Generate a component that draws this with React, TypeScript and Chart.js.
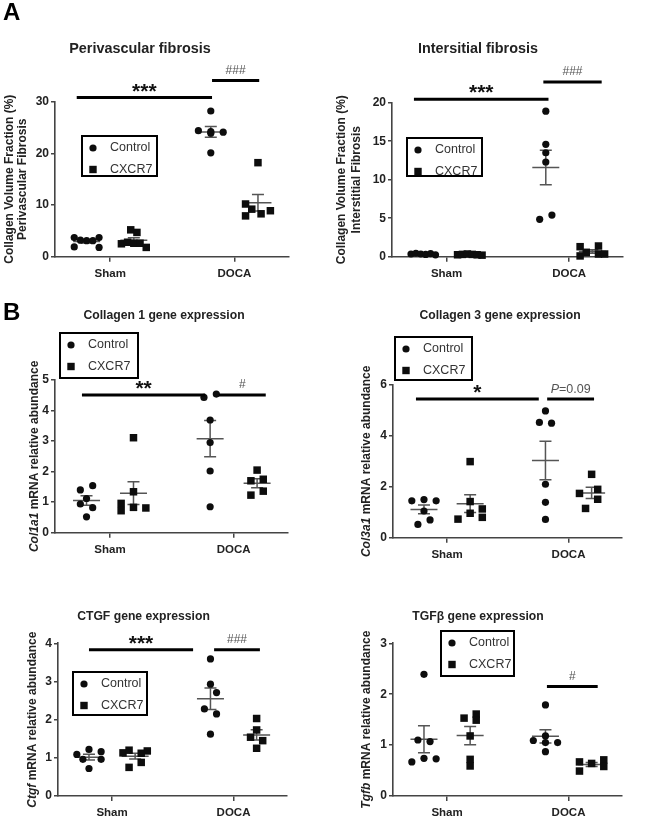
import React, { useEffect, useRef } from "react";
import { Chart, registerables } from "chart.js";

Chart.register(...registerables);

const FONT = "'Liberation Sans', Arial, Helvetica, sans-serif";
const TEXT = "#222";
const AXIS = "#444";
const MARK = "#0d0d0d";
const MEAN = "#555";
const GREY_TXT = "#555";

const categories = ["Sham", "DOCA"];
const seriesNames = ["Control", "CXCR7"];

// ---- Perivascular fibrosis (%) ----
const periShamControl = [3.7, 1.9, 3.2, 3.1, 3.1, 3.7, 1.8];
const periShamCXCR7 = [2.5, 5.2, 4.7, 2.8, 2.6, 2.6, 1.8];
const periDocaControl = [28.2, 24.4, 24.2, 23.9, 24.1, 20.1];
const periDocaCXCR7 = [18.2, 10.2, 9.2, 8.3, 8.9, 7.9];
const periShamControlSlots = [-2, -2, -1, 0, 1, 2, 2];
const periShamCXCR7Slots = [-2, -0.5, 0.5, -1, 0, 1, 2];
const periDocaControlSlots = [0, -2, 0, 0, 2, 0];
const periDocaCXCR7Slots = [0, -2, -1, 0.5, 2, -2];
const periTicks = { max: 30, step: 10 };
const periSig = [
  { from: 0.73, to: 1.82, y: 30.8, label: "***", kind: "star" },
  { from: 1.82, to: 2.2, y: 34.1, label: "###", kind: "hash" },
];

// ---- Intersitial fibrosis (%) ----
const interShamControl = [0.35, 0.45, 0.35, 0.3, 0.4, 0.25];
const interShamCXCR7 = [0.25, 0.3, 0.35, 0.3, 0.25, 0.2];
const interDocaControl = [18.9, 14.6, 13.5, 12.3, 4.85, 5.4];
const interDocaCXCR7 = [1.3, 0.1, 0.57, 1.39, 0.35, 0.35];
const interShamControlSlots = [-2, -1.2, -0.4, 0.4, 1.2, 2];
const interShamCXCR7Slots = [-2, -1.2, -0.4, 0.4, 1.2, 2];
const interDocaControlSlots = [0, 0, 0, 0, -1, 1];
const interDocaCXCR7Slots = [-2, -2, -1, 1, 1, 2];
const interTicks = { max: 20, step: 5 };
const interSig = [
  { from: 0.734, to: 1.832, y: 20.44, label: "***", kind: "star" },
  { from: 1.79, to: 2.266, y: 22.7, label: "###", kind: "hash" },
];

// ---- Collagen 1 ----
const col1ShamControl = [1.4, 1.54, 1.12, 0.94, 0.82, 0.52];
const col1ShamCXCR7 = [3.11, 1.34, 0.96, 0.72, 0.83, 0.81];
const col1DocaControl = [4.43, 4.54, 3.69, 2.95, 2.02, 0.85];
const col1DocaCXCR7 = [2.05, 1.7, 1.75, 1.23, 1.36];
const col1ShamControlSlots = [-1, 1, 0, -1, 1, 0];
const col1ShamCXCR7Slots = [0, 0, -2, -2, 0, 2];
const col1DocaControlSlots = [-1, 1, 0, 0, 0, 0];
const col1DocaCXCR7Slots = [0, -1, 1, -1, 1];
const col1Ticks = { max: 5, step: 1 };
const col1Sig = [
  { from: 0.773, to: 1.77, y: 4.51, label: "**", kind: "star" },
  { from: 1.88, to: 2.26, y: 4.51, label: "#", kind: "hash" },
];

// ---- Collagen 3 ----
const col3ShamControl = [1.45, 1.5, 1.45, 1.05, 0.7, 0.52];
const col3ShamCXCR7 = [2.99, 1.42, 1.13, 0.96, 0.73, 0.8];
const col3DocaControl = [4.98, 4.53, 4.5, 2.1, 1.39, 0.72];
const col3DocaCXCR7 = [2.49, 1.74, 1.9, 1.51, 1.15];
const col3ShamControlSlots = [-2, 0, 2, 0, 1, -1];
const col3ShamCXCR7Slots = [0, 0, 2, 0, -2, 2];
const col3DocaControlSlots = [0, -1, 1, 0, 0, 0];
const col3DocaCXCR7Slots = [0, -2, 1, 1, -1];
const col3Ticks = { max: 6, step: 2 };
const col3Sig = [
  { from: 0.744, to: 1.755, y: 5.45, label: "*", kind: "star" },
  { from: 1.824, to: 2.21, y: 5.45, label: "P=0.09", kind: "p" },
];

// ---- CTGF ----
const ctgfShamControl = [1.09, 1.22, 1.16, 0.96, 0.96, 0.72];
const ctgfShamCXCR7 = [1.13, 1.2, 1.18, 1.12, 0.75, 0.88];
const ctgfDocaControl = [3.59, 2.93, 2.71, 2.28, 2.15, 1.62];
const ctgfDocaCXCR7 = [2.03, 1.73, 1.54, 1.45, 1.25];
const ctgfShamControlSlots = [-2, 0, 2, -1, 2, 0];
const ctgfShamCXCR7Slots = [-2, -1, 2, 1, -1, 1];
const ctgfDocaControlSlots = [0, 0, 1, -1, 1, 0];
const ctgfDocaCXCR7Slots = [0, 0, -1, 1, 0];
const ctgfTicks = { max: 4, step: 1 };
const ctgfSig = [
  { from: 0.81, to: 1.667, y: 3.83, label: "***", kind: "star" },
  { from: 1.84, to: 2.217, y: 3.83, label: "###", kind: "hash" },
];

// ---- TGFβ ----
const tgfbShamControl = [2.39, 1.1, 1.07, 0.67, 0.74, 0.73];
const tgfbShamCXCR7 = [1.53, 1.61, 1.49, 1.18, 0.72, 0.59];
const tgfbDocaControl = [1.79, 1.18, 1.09, 1.05, 1.05, 0.87];
const tgfbDocaCXCR7 = [0.67, 0.49, 0.64, 0.71, 0.58];
const tgfbShamControlSlots = [0, -1, 1, -2, 0, 2];
const tgfbShamCXCR7Slots = [-1, 1, 1, 0, 0, 0];
const tgfbDocaControlSlots = [0, 0, -2, 0, 2, 0];
const tgfbDocaCXCR7Slots = [-2, -2, 0, 2, 2];
const tgfbTicks = { max: 3, step: 1 };
const tgfbSig = [{ from: 1.822, to: 2.24, y: 2.15, label: "#", kind: "hash" }];

// ---- styling constants ----
const X_MIN = 0.555;
const X_MAX = 2.44;
const GROUP_OFFSET = 0.19;
const SLOT = 0.05;

type Part = { t: string; i?: boolean };

const panels = [
  {
    id: "peri",
    title: "Perivascular fibrosis",
    titleSize: 14.4,
    yTitle: [[{ t: "Collagen Volume Fraction (%)" }], [{ t: "Perivascular Fibrosis" }]] as Part[][],
    ticks: periTicks,
    control: [periShamControl, periDocaControl],
    cxcr7: [periShamCXCR7, periDocaCXCR7],
    controlSlots: [periShamControlSlots, periDocaControlSlots],
    cxcr7Slots: [periShamCXCR7Slots, periDocaCXCR7Slots],
    sig: periSig,
    layout: {
      canvas: { x: 0, y: 0, w: 330, h: 290 },
      plot: { left: 55, top: 101.7, right: 289, bottom: 256.7 },
      title: { x: 140, y: 49 },
      yTitleX: [10, 23],
      legend: { x: 82, y: 136, w: 75, h: 40 },
    },
  },
  {
    id: "inter",
    title: "Intersitial fibrosis",
    titleSize: 14.4,
    yTitle: [[{ t: "Collagen Volume Fraction (%)" }], [{ t: "Interstitial Fibrosis" }]] as Part[][],
    ticks: interTicks,
    control: [interShamControl, interDocaControl],
    cxcr7: [interShamCXCR7, interDocaCXCR7],
    controlSlots: [interShamControlSlots, interDocaControlSlots],
    cxcr7Slots: [interShamCXCR7Slots, interDocaCXCR7Slots],
    sig: interSig,
    layout: {
      canvas: { x: 330, y: 0, w: 331, h: 290 },
      plot: { left: 392, top: 102.7, right: 623, bottom: 256.7 },
      title: { x: 478, y: 49 },
      yTitleX: [342, 357],
      legend: { x: 407, y: 138, w: 75, h: 38 },
    },
  },
  {
    id: "col1",
    title: "Collagen 1 gene expression",
    titleSize: 12.2,
    yTitle: [[{ t: "Col1a1", i: true }, { t: " mRNA relative abundance" }]] as Part[][],
    ticks: col1Ticks,
    control: [col1ShamControl, col1DocaControl],
    cxcr7: [col1ShamCXCR7, col1DocaCXCR7],
    controlSlots: [col1ShamControlSlots, col1DocaControlSlots],
    cxcr7Slots: [col1ShamCXCR7Slots, col1DocaCXCR7Slots],
    sig: col1Sig,
    layout: {
      canvas: { x: 0, y: 290, w: 330, h: 270 },
      plot: { left: 55, top: 380, right: 288, bottom: 532.7 },
      title: { x: 164, y: 316 },
      yTitleX: [35],
      legend: { x: 60, y: 333, w: 78, h: 45 },
    },
  },
  {
    id: "col3",
    title: "Collagen 3 gene expression",
    titleSize: 12.2,
    yTitle: [[{ t: "Col3a1", i: true }, { t: " mRNA relative abundance" }]] as Part[][],
    ticks: col3Ticks,
    control: [col3ShamControl, col3DocaControl],
    cxcr7: [col3ShamCXCR7, col3DocaCXCR7],
    controlSlots: [col3ShamControlSlots, col3DocaControlSlots],
    cxcr7Slots: [col3ShamCXCR7Slots, col3DocaCXCR7Slots],
    sig: col3Sig,
    layout: {
      canvas: { x: 330, y: 290, w: 331, h: 270 },
      plot: { left: 393, top: 385, right: 622, bottom: 537.7 },
      title: { x: 500, y: 316 },
      yTitleX: [367],
      legend: { x: 395, y: 337, w: 77, h: 43 },
    },
  },
  {
    id: "ctgf",
    title: "CTGF gene expression",
    titleSize: 12.2,
    yTitle: [[{ t: "Ctgf", i: true }, { t: " mRNA relative abundance" }]] as Part[][],
    ticks: ctgfTicks,
    control: [ctgfShamControl, ctgfDocaControl],
    cxcr7: [ctgfShamCXCR7, ctgfDocaCXCR7],
    controlSlots: [ctgfShamControlSlots, ctgfDocaControlSlots],
    cxcr7Slots: [ctgfShamCXCR7Slots, ctgfDocaCXCR7Slots],
    sig: ctgfSig,
    layout: {
      canvas: { x: 0, y: 560, w: 330, h: 270 },
      plot: { left: 58, top: 643.3, right: 287, bottom: 796 },
      title: { x: 143.5, y: 617 },
      yTitleX: [33],
      legend: { x: 73, y: 672, w: 74, h: 43 },
    },
  },
  {
    id: "tgfb",
    title: "TGFβ gene expression",
    titleSize: 12.2,
    yTitle: [[{ t: "Tgfb", i: true }, { t: " mRNA relative abundance" }]] as Part[][],
    ticks: tgfbTicks,
    control: [tgfbShamControl, tgfbDocaControl],
    cxcr7: [tgfbShamCXCR7, tgfbDocaCXCR7],
    controlSlots: [tgfbShamControlSlots, tgfbDocaControlSlots],
    cxcr7Slots: [tgfbShamCXCR7Slots, tgfbDocaCXCR7Slots],
    sig: tgfbSig,
    layout: {
      canvas: { x: 330, y: 560, w: 331, h: 270 },
      plot: { left: 393, top: 643.3, right: 622, bottom: 796 },
      title: { x: 478, y: 617 },
      yTitleX: [367],
      legend: { x: 441, y: 631, w: 73, h: 45 },
    },
  },
];

type PanelSpec = (typeof panels)[number];

function points(sets: number[][], slots: number[][], side: number) {
  const out: { x: number; y: number }[] = [];
  sets.forEach((vals, ci) =>
    vals.forEach((v, i) => out.push({ x: ci + 1 + side * GROUP_OFFSET + slots[ci][i] * SLOT, y: v }))
  );
  return out;
}

function drawParts(ctx: CanvasRenderingContext2D, parts: Part[], cx: number, cy: number, size: number, weight: string, color: string, baseline: CanvasTextBaseline = "middle") {
  const fonts = parts.map((p) => `${p.i ? "italic " : ""}${weight} ${size}px ${FONT}`);
  let total = 0;
  const widths = parts.map((p, k) => {
    ctx.font = fonts[k];
    const w = ctx.measureText(p.t).width;
    total += w;
    return w;
  });
  let x = cx - total / 2;
  ctx.textAlign = "left";
  ctx.textBaseline = baseline;
  ctx.fillStyle = color;
  parts.forEach((p, k) => {
    ctx.font = fonts[k];
    ctx.fillText(p.t, x, cy);
    x += widths[k];
  });
}

function makeDecor(p: PanelSpec) {
  const L = p.layout;
  const ox = L.canvas.x;
  const oy = L.canvas.y;
  return {
    id: "decor_" + p.id,
    beforeDatasetsDraw(chart: any) {
      const { ctx } = chart;
      const xs = chart.scales.x;
      const ys = chart.scales.y;
      ctx.save();
      ctx.strokeStyle = MEAN;
      ctx.lineWidth = 1.5;
      const groups: [number[][], number][] = [
        [p.control, -1],
        [p.cxcr7, 1],
      ];
      groups.forEach(([sets, side]) =>
        sets.forEach((vals, ci) => {
          const n = vals.length;
          const m = vals.reduce((a, b) => a + b, 0) / n;
          const sd = Math.sqrt(vals.reduce((a, b) => a + (b - m) * (b - m), 0) / (n - 1));
          const se = sd / Math.sqrt(n);
          const cx = xs.getPixelForValue(ci + 1 + side * GROUP_OFFSET);
          const ym = ys.getPixelForValue(m);
          const yt = ys.getPixelForValue(m + se);
          const yb = ys.getPixelForValue(m - se);
          ctx.beginPath();
          ctx.moveTo(cx - 13.5, ym);
          ctx.lineTo(cx + 13.5, ym);
          ctx.moveTo(cx, yt);
          ctx.lineTo(cx, yb);
          ctx.moveTo(cx - 6, yt);
          ctx.lineTo(cx + 6, yt);
          ctx.moveTo(cx - 6, yb);
          ctx.lineTo(cx + 6, yb);
          ctx.stroke();
        })
      );
      ctx.restore();
    },
    afterDraw(chart: any) {
      const { ctx } = chart;
      const xs = chart.scales.x;
      const ys = chart.scales.y;
      ctx.save();
      // title
      drawParts(ctx, [{ t: p.title }], L.title.x - ox, L.title.y - oy, p.titleSize, "bold", TEXT);
      // y title
      const cy = (L.plot.top + L.plot.bottom) / 2 - oy;
      p.yTitle.forEach((line, k) => {
        ctx.save();
        ctx.translate(L.yTitleX[k] - ox, cy);
        ctx.rotate(-Math.PI / 2);
        drawParts(ctx, line, 0, 0, 12, "bold", TEXT);
        ctx.restore();
      });
      // significance bars
      p.sig.forEach((s) => {
        const x1 = xs.getPixelForValue(s.from);
        const x2 = xs.getPixelForValue(s.to);
        const yy = ys.getPixelForValue(s.y);
        ctx.strokeStyle = "#000";
        ctx.lineWidth = 3;
        ctx.beginPath();
        ctx.moveTo(x1, yy);
        ctx.lineTo(x2, yy);
        ctx.stroke();
        const mx = (x1 + x2) / 2;
        if (s.kind === "star") {
          drawParts(ctx, [{ t: s.label }], mx, yy, 21, "bold", "#111", "alphabetic");
        } else if (s.kind === "hash") {
          drawParts(ctx, [{ t: s.label }], mx, yy - 7, 12, "normal", GREY_TXT, "alphabetic");
        } else {
          drawParts(ctx, [{ t: "P", i: true }, { t: s.label.slice(1) }], mx, yy - 6, 12.5, "normal", GREY_TXT, "alphabetic");
        }
      });
      // legend box
      const lg = L.legend;
      const lx = lg.x - ox;
      const ly = lg.y - oy;
      ctx.strokeStyle = "#000";
      ctx.lineWidth = 2;
      ctx.strokeRect(lx, ly, lg.w, lg.h);
      const rows = [ly + 12, ly + 33.5];
      seriesNames.forEach((name, k) => {
        ctx.fillStyle = MARK;
        const mx = lx + 11;
        if (k === 0) {
          ctx.beginPath();
          ctx.arc(mx, rows[k], 3.6, 0, Math.PI * 2);
          ctx.fill();
        } else {
          ctx.fillRect(mx - 3.7, rows[k] - 3.7, 7.4, 7.4);
        }
        ctx.font = `normal 12.5px ${FONT}`;
        ctx.textAlign = "left";
        ctx.textBaseline = "middle";
        ctx.fillStyle = "#333";
        ctx.fillText(name, lx + 28, rows[k]);
      });
      ctx.restore();
    },
  };
}

function buildConfig(p: PanelSpec): any {
  const L = p.layout;
  const c = L.canvas;
  const padTop = L.plot.top - c.y;
  const padRight = c.x + c.w - L.plot.right;
  const yW = L.plot.left - c.x;
  const xH = c.y + c.h - L.plot.bottom;
  return {
    type: "scatter",
    data: {
      datasets: [
        {
          label: seriesNames[0],
          data: points(p.control, p.controlSlots, -1),
          pointStyle: "circle",
          pointRadius: 3.6,
          backgroundColor: MARK,
          borderColor: MARK,
          borderWidth: 0,
          clip: false,
        },
        {
          label: seriesNames[1],
          data: points(p.cxcr7, p.cxcr7Slots, 1),
          pointStyle: "rect",
          pointRadius: 5.3,
          backgroundColor: MARK,
          borderColor: MARK,
          borderWidth: 0,
          clip: false,
        },
      ],
    },
    options: {
      responsive: false,
      animation: false,
      events: [],
      layout: { autoPadding: false, padding: { left: 0, top: padTop, right: padRight, bottom: 0 } },
      plugins: { legend: { display: false }, title: { display: false }, tooltip: { enabled: false } },
      scales: {
        x: {
          type: "linear",
          min: X_MIN,
          max: X_MAX,
          afterBuildTicks: (ax: any) => {
            ax.ticks = categories.map((_, i) => ({ value: i + 1 }));
          },
          afterFit: (s: any) => {
            s.height = xH;
          },
          ticks: {
            callback: (_v: any, i: number) => categories[i],
            font: { family: FONT, size: 11.5, weight: "bold" },
            color: TEXT,
            padding: 5,
            autoSkip: false,
            maxRotation: 0,
          },
          grid: { drawOnChartArea: false, drawTicks: true, tickLength: 5, color: AXIS, lineWidth: 1.5 },
          border: { display: true, color: AXIS, width: 1.6 },
        },
        y: {
          type: "linear",
          min: 0,
          max: p.ticks.max,
          afterFit: (s: any) => {
            s.width = yW;
          },
          ticks: {
            stepSize: p.ticks.step,
            font: { family: FONT, size: 12, weight: "bold" },
            color: TEXT,
            padding: 2,
          },
          grid: { drawOnChartArea: false, drawTicks: true, tickLength: 4, color: AXIS, lineWidth: 1.5 },
          border: { display: true, color: AXIS, width: 1.6 },
        },
      },
    },
    plugins: [makeDecor(p)],
  };
}

function Panel({ spec }: { spec: PanelSpec }) {
  const ref = useRef<HTMLCanvasElement>(null);
  useEffect(() => {
    const chart = new Chart(ref.current as HTMLCanvasElement, buildConfig(spec));
    return () => chart.destroy();
  }, [spec]);
  const c = spec.layout.canvas;
  return (
    <canvas
      ref={ref}
      width={c.w}
      height={c.h}
      style={{ position: "absolute", left: c.x, top: c.y, width: c.w, height: c.h }}
    />
  );
}

const letterStyle: React.CSSProperties = {
  position: "absolute",
  fontFamily: FONT,
  fontWeight: "bold",
  fontSize: 24,
  lineHeight: "24px",
  color: "#000",
};

export default function App() {
  return (
    <div style={{ position: "absolute", left: 0, top: 0, width: 661, height: 830, background: "#fff", overflow: "hidden" }}>
      {panels.map((p) => (
        <Panel key={p.id} spec={p} />
      ))}
      <div style={{ ...letterStyle, left: 3, top: 0 }}>A</div>
      <div style={{ ...letterStyle, left: 3, top: 300 }}>B</div>
    </div>
  );
}
